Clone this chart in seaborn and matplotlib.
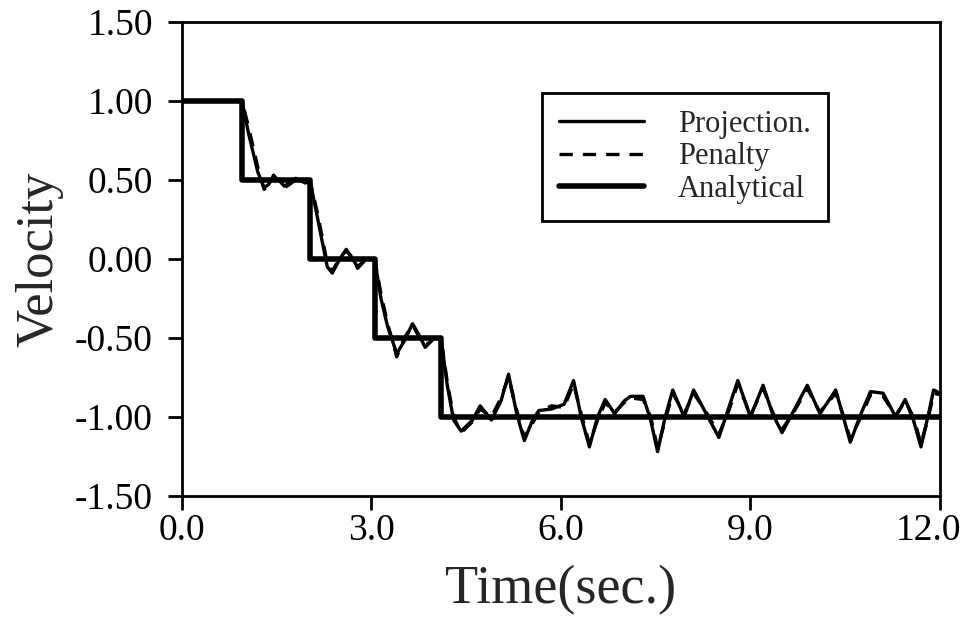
import matplotlib
matplotlib.use("Agg")
import matplotlib.pyplot as plt
from matplotlib.transforms import ScaledTranslation
import seaborn as sns
import pandas as pd

# ---- data ----
analytical_t = [0.0, 0.95, 0.95, 2.03, 2.03, 3.05, 3.05, 4.1, 4.1, 12.0]
analytical_v = [1.0, 1.0, 0.5, 0.5, 0.0, 0.0, -0.5, -0.5, -1.0, -1.0]

projection_t = [0.0, 0.95, 1.05, 1.2, 1.3, 1.37, 1.45, 1.53, 1.62, 1.7, 1.8, 1.95, 2.03,
                2.15, 2.3, 2.38, 2.5, 2.6, 2.7, 2.78, 2.92, 3.05,
                3.15, 3.25, 3.4, 3.52, 3.65, 3.75, 3.85, 4.0, 4.1,
                4.2, 4.3, 4.42, 4.6, 4.72, 4.9, 5.05, 5.17, 5.3, 5.42, 5.55, 5.65, 5.85,
                6.05, 6.2, 6.32, 6.45, 6.58, 6.7, 6.85, 7.0, 7.1, 7.3, 7.42, 7.53, 7.65, 7.77,
                7.95, 8.1, 8.3, 8.5, 8.65, 8.8, 9.0, 9.2, 9.35, 9.5, 9.7, 9.9, 10.1,
                10.35, 10.47, 10.58, 10.75, 10.9, 11.1, 11.3, 11.45, 11.58, 11.7, 11.82, 11.9, 12.0]
projection_v = [1.0, 1.0, 0.80, 0.55, 0.45, 0.47, 0.52, 0.50, 0.46, 0.48, 0.51, 0.48, 0.49,
                0.25, -0.05, -0.09, 0.0, 0.06, 0.0, -0.05, 0.0, 0.0,
                -0.25, -0.42, -0.60, -0.52, -0.41, -0.48, -0.56, -0.50, -0.50,
                -0.80, -1.02, -1.09, -1.02, -0.93, -1.02, -0.90, -0.73, -0.98, -1.15, -1.02, -0.96, -0.95,
                -0.92, -0.77, -1.00, -1.19, -1.00, -0.89, -0.98, -0.90, -0.87, -0.87, -1.02, -1.22, -1.00, -0.83,
                -1.00, -0.83, -0.98, -1.13, -0.95, -0.77, -1.00, -0.80, -0.98, -1.10, -0.95, -0.80, -0.98,
                -0.83, -1.00, -1.16, -0.98, -0.84, -0.85, -1.00, -0.89, -1.02, -1.19, -0.98, -0.83, -0.85]

penalty_t = projection_t
penalty_v = [1.0, 1.0, 0.84, 0.58, 0.44, 0.46, 0.53, 0.49, 0.45, 0.47, 0.50, 0.49, 0.49,
             0.28, -0.03, -0.08, 0.01, 0.05, 0.01, -0.06, 0.0, 0.0,
             -0.22, -0.40, -0.62, -0.50, -0.42, -0.49, -0.55, -0.50, -0.50,
             -0.78, -1.00, -1.10, -1.03, -0.95, -1.00, -0.88, -0.75, -0.96, -1.13, -1.04, -0.97, -0.93,
             -0.94, -0.79, -0.98, -1.17, -1.02, -0.91, -0.97, -0.91, -0.88, -0.89, -1.00, -1.20, -1.02, -0.85,
             -0.98, -0.85, -0.97, -1.11, -0.97, -0.79, -0.99, -0.82, -0.97, -1.08, -0.96, -0.82, -0.97,
             -0.85, -0.99, -1.14, -1.00, -0.86, -0.87, -0.99, -0.90, -1.00, -1.17, -1.00, -0.85, -0.86]

x_ticks = [0.0, 3.0, 6.0, 9.0, 12.0]
y_ticks = [1.5, 1.0, 0.5, 0.0, -0.5, -1.0, -1.5]

df_proj = pd.DataFrame({"t": projection_t, "v": projection_v})
df_pen = pd.DataFrame({"t": penalty_t, "v": penalty_v})
df_ana = pd.DataFrame({"t": analytical_t, "v": analytical_v})

sns.set_style("ticks")
plt.rcParams["font.family"] = ["Liberation Serif", "DejaVu Serif"]

fig = plt.figure(figsize=(9.68, 6.23), dpi=100)
ax = fig.add_axes([0.188, 0.204, 0.783, 0.761])

sns.lineplot(data=df_proj, x="t", y="v", ax=ax, color="black", lw=2.4,
             label="Projection.", sort=False, estimator=None)
sns.lineplot(data=df_pen, x="t", y="v", ax=ax, color="black", lw=2.4,
             linestyle=(0, (4, 3)), label="Penalty", sort=False, estimator=None)
sns.lineplot(data=df_ana, x="t", y="v", ax=ax, color="black", lw=4.0,
             label="Analytical", sort=False, estimator=None)

ax.set_xlim(0, 12)
ax.set_ylim(-1.5, 1.5)
ax.set_xticks(x_ticks)
ax.set_xticklabels([f"{v:.1f}" for v in x_ticks])
ax.set_yticks(y_ticks)
ax.set_yticklabels([f"{v:.2f}" for v in y_ticks])
ax.tick_params(direction="out", length=10, width=2, labelsize=27, colors="black")
ax.tick_params(axis="y", pad=11)
ax.tick_params(axis="x", pad=3)
for s in ax.spines.values():
    s.set_visible(True)
    s.set_linewidth(2)
    s.set_color("black")

# nudge the last x tick label slightly left so it stays inside the figure
last = ax.get_xticklabels()[-1]
last.set_transform(last.get_transform() + ScaledTranslation(-8 / 72, 0, fig.dpi_scale_trans))

ax.set_xlabel("Time(sec.)", fontsize=39, labelpad=12)
ax.set_ylabel("Velocity", fontsize=38, labelpad=8)

leg = ax.legend(loc="upper left", bbox_to_anchor=(0.475, 0.850), borderaxespad=0,
                frameon=True, fancybox=False, edgecolor="black", framealpha=1, fontsize=22,
                handlelength=2.8, handletextpad=1.1, borderpad=0.55, labelspacing=0.12)
leg.get_frame().set_linewidth(2)

fig.savefig("out.png", dpi=100)
